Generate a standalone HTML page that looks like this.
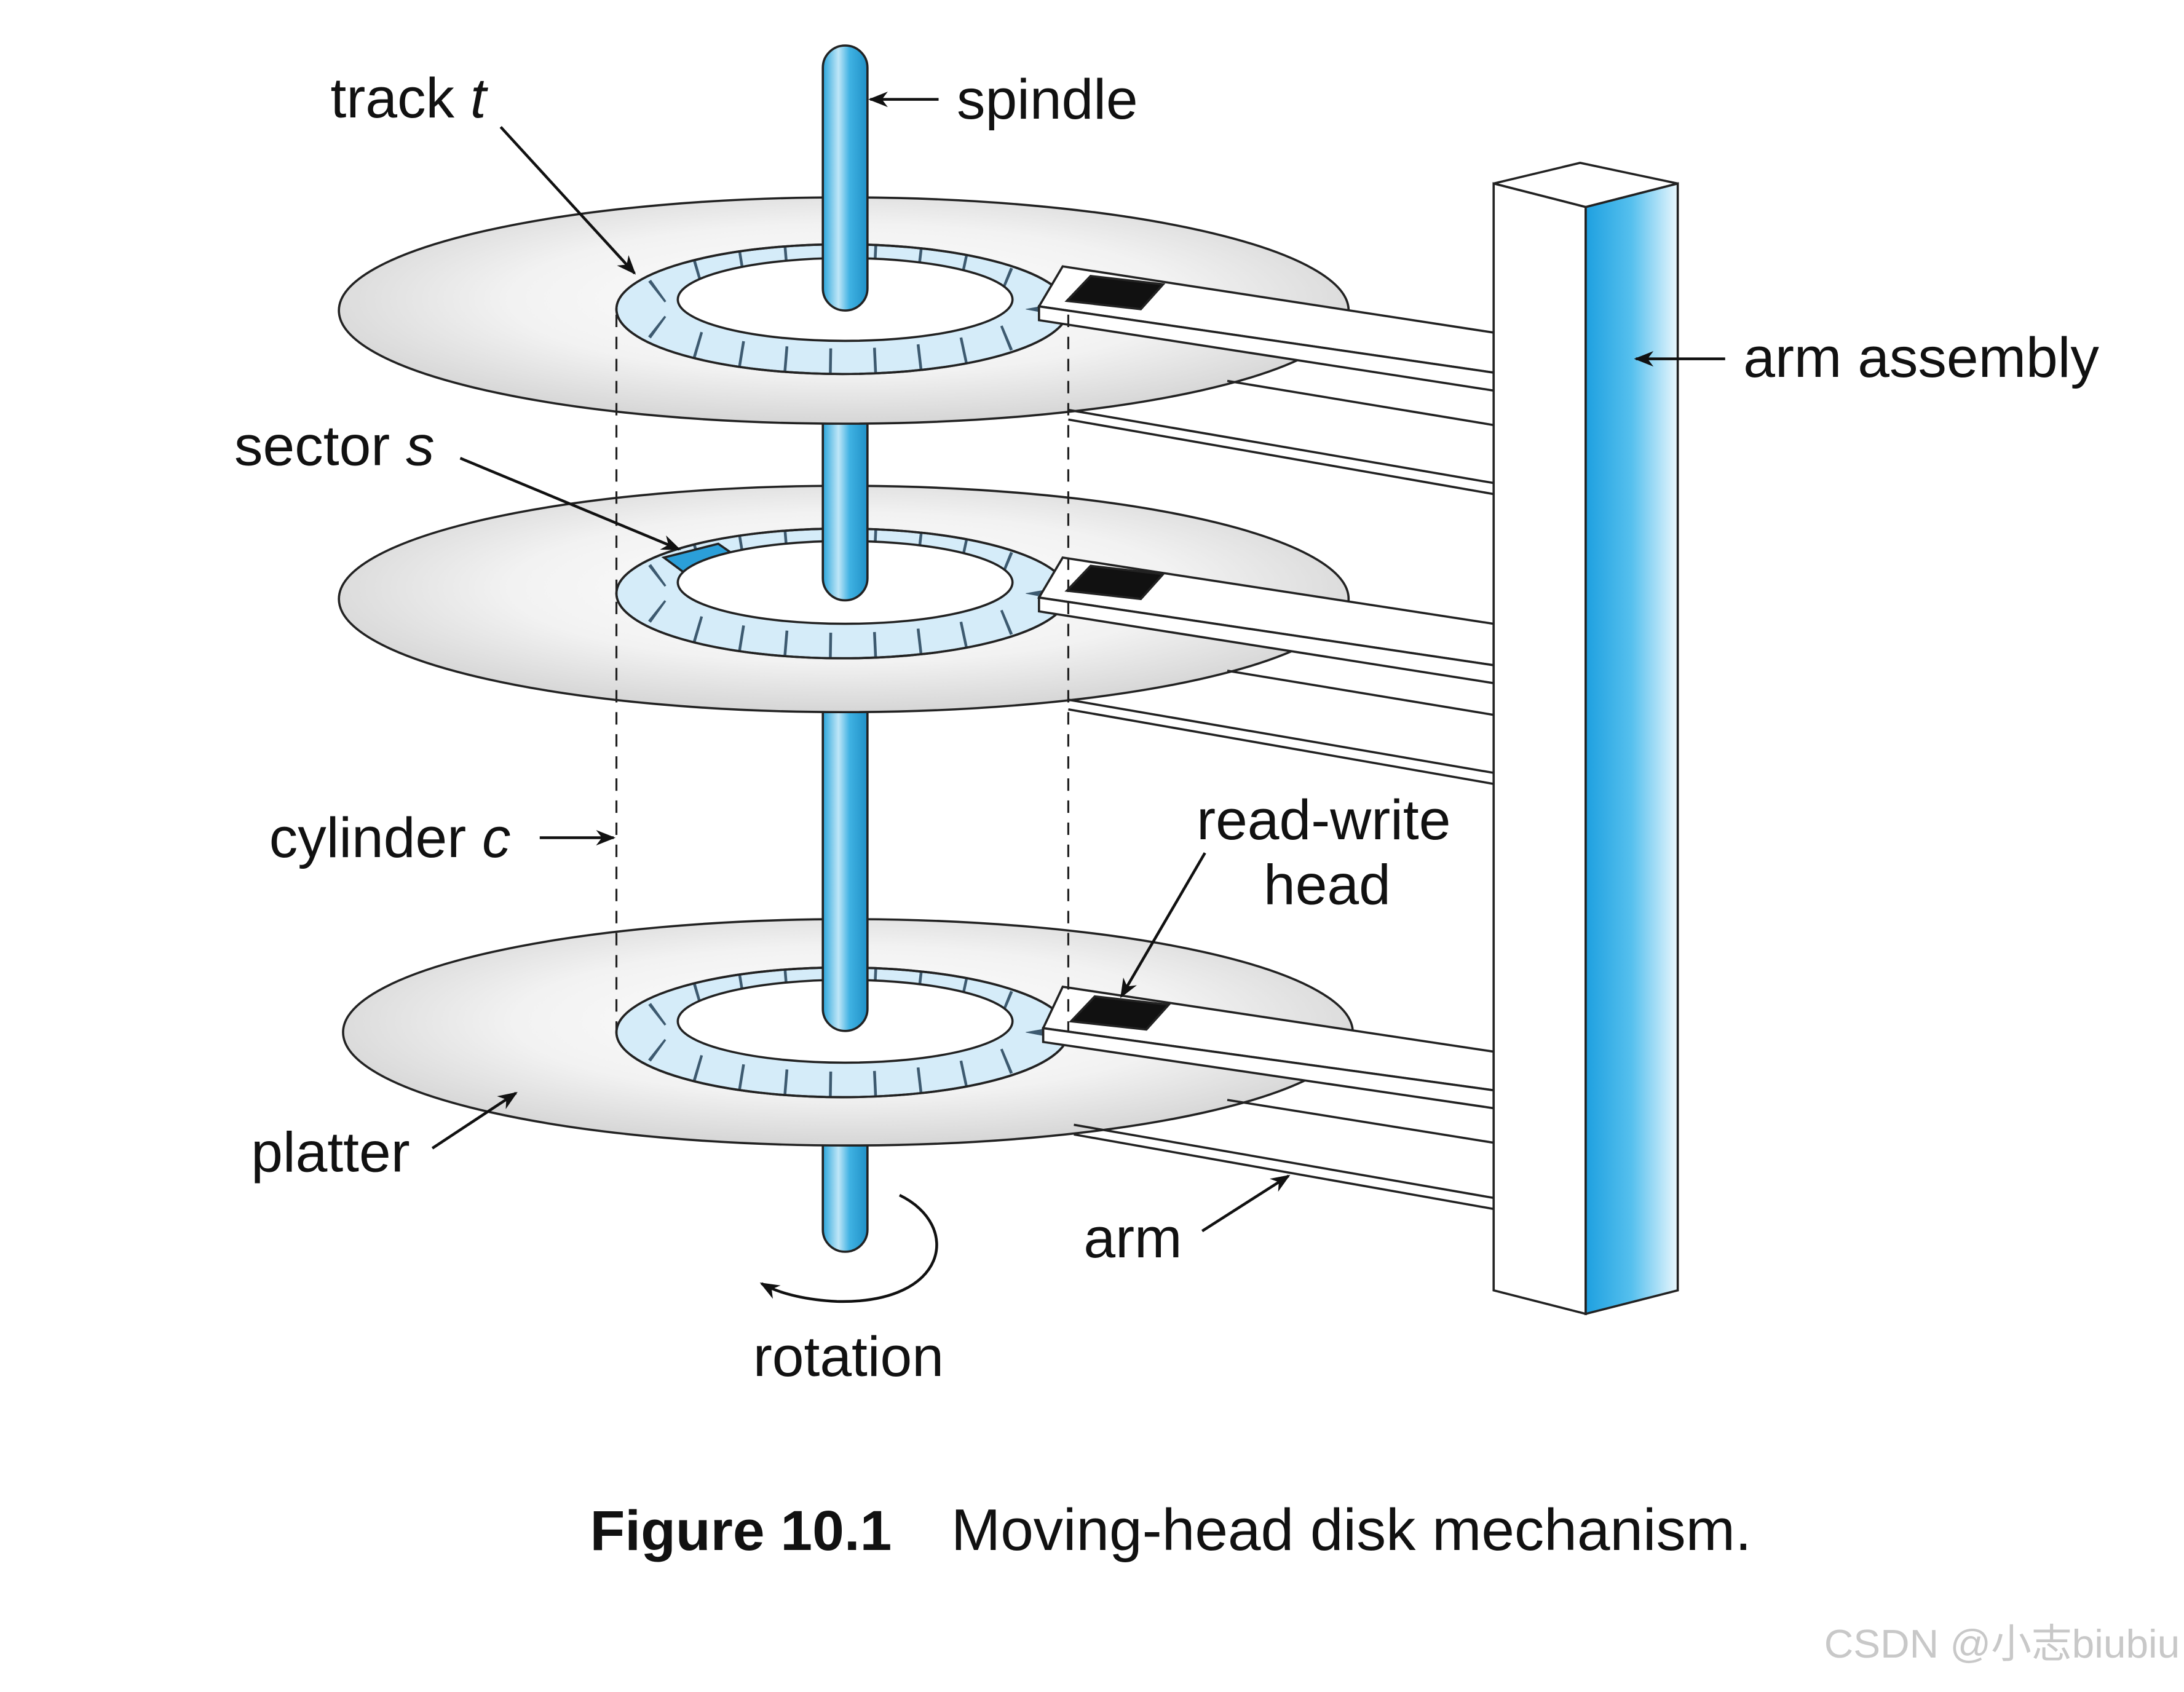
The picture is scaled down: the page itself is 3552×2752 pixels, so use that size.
<!DOCTYPE html>
<html><head><meta charset="utf-8"><style>
html,body{margin:0;padding:0;background:#fff}
svg{display:block}
text{font-family:"Liberation Sans","Noto Sans CJK SC",sans-serif;fill:#111}
</style></head><body>
<svg width="3552" height="2752" viewBox="0 0 1566 1226" preserveAspectRatio="none" xmlns="http://www.w3.org/2000/svg">
<defs>
<radialGradient id="pl" cx="0.5" cy="0.45" r="0.6">
<stop offset="0" stop-color="#ffffff"/><stop offset="0.55" stop-color="#f2f2f2"/><stop offset="1" stop-color="#cfcfcf"/>
</radialGradient>
<linearGradient id="sp" x1="0" x2="1">
<stop offset="0" stop-color="#2aa6dc"/><stop offset="0.35" stop-color="#bfe6f7"/><stop offset="0.6" stop-color="#3fb2e3"/><stop offset="1" stop-color="#1f8fc6"/>
</linearGradient>
<linearGradient id="col" x1="0" x2="1">
<stop offset="0" stop-color="#1ea0e0"/><stop offset="0.5" stop-color="#56c0ee"/><stop offset="1" stop-color="#eaf7fd"/>
</linearGradient>
<marker id="ah" viewBox="0 0 10 10" refX="9" refY="5" markerWidth="7" markerHeight="7" orient="auto-start-reverse">
<path d="M0,1 L10,5 L0,9 L3,5 z" fill="#111"/></marker>
</defs>

<g stroke="#222" stroke-width="1.6">
<rect x="590" y="745" width="32" height="162" rx="16" fill="url(#sp)"/>

<ellipse cx="608" cy="748" rx="362" ry="82" fill="url(#pl)"/>
<path d="M770 815 L1071 868 M770 822 L1071 876 M880 797 L1071 828" fill="none"/>
<ellipse cx="604" cy="748" rx="162" ry="47" fill="#d5ecf9"/>
<ellipse cx="604" cy="748" rx="141" ry="38" fill="none" stroke="#3d5a70" stroke-width="19" stroke-dasharray="2 30"/>
<ellipse cx="604" cy="748" rx="162" ry="47" fill="none"/>
<ellipse cx="606" cy="740" rx="120" ry="30" fill="#fff"/>
<rect x="590" y="434" width="32" height="313" rx="16" fill="url(#sp)"/>
<polygon points="762,715 1071,762 1071,790 748,745" fill="#fff"/>
<polygon points="748,745 1071,790 1071,803 748,755" fill="#fff"/>
<polygon points="785,722 838,728 822,746 768,740" fill="#111"/>

<ellipse cx="605" cy="434" rx="362" ry="82" fill="url(#pl)"/>
<path d="M766 507 L1071 560 M766 514 L1071 568 M880 486 L1071 518" fill="none"/>
<ellipse cx="604" cy="430" rx="162" ry="47" fill="#d5ecf9"/>
<ellipse cx="604" cy="430" rx="141" ry="38" fill="none" stroke="#3d5a70" stroke-width="19" stroke-dasharray="2 30"/>
<ellipse cx="604" cy="430" rx="162" ry="47" fill="none"/>
<polygon points="476,404 515,394 532,406 492,416" fill="#2b9fd9"/>
<ellipse cx="606" cy="422" rx="120" ry="30" fill="#fff"/>
<rect x="590" y="225" width="32" height="210" rx="16" fill="url(#sp)"/>
<polygon points="762,404 1071,452 1071,482 745,433" fill="#fff"/>
<polygon points="745,433 1071,482 1071,495 745,443" fill="#fff"/>
<polygon points="782,410 834,416 818,434 765,428" fill="#111"/>

<ellipse cx="605" cy="225" rx="362" ry="82" fill="url(#pl)"/>
<path d="M766 297 L1071 350 M766 304 L1071 358 M880 276 L1071 308" fill="none"/>
<ellipse cx="604" cy="224" rx="162" ry="47" fill="#d5ecf9"/>
<ellipse cx="604" cy="224" rx="141" ry="38" fill="none" stroke="#3d5a70" stroke-width="19" stroke-dasharray="2 30"/>
<ellipse cx="604" cy="224" rx="162" ry="47" fill="none"/>
<ellipse cx="606" cy="217" rx="120" ry="30" fill="#fff"/>
<rect x="590" y="33" width="32" height="192" rx="16" fill="url(#sp)"/>
<polygon points="762,193 1071,241 1071,270 745,222" fill="#fff"/>
<polygon points="745,222 1071,270 1071,283 745,232" fill="#fff"/>
<polygon points="782,200 834,206 818,224 765,218" fill="#111"/>

<path d="M442 228 L442 748 M766 228 L766 748" fill="none" stroke-dasharray="9 7" stroke-width="1.4"/>

<polygon points="1071,133 1133,118 1203,133 1137,150" fill="#fff"/>
<polygon points="1071,133 1137,150 1137,952 1071,935" fill="#fff"/>
<polygon points="1137,150 1203,133 1203,935 1137,952" fill="url(#col)"/>
</g>

<g stroke="#111" stroke-width="2" fill="none" marker-end="url(#ah)">
<path d="M359 92 L455 198"/>
<path d="M673 72 L624 72"/>
<path d="M1237 260 L1173 260"/>
<path d="M330 332 L487 398"/>
<path d="M387 607 L440 607"/>
<path d="M864 618 L804 722"/>
<path d="M310 832 L370 792"/>
<path d="M862 892 L924 852"/>
<path d="M645 866 C690 888 680 945 600 943 C580 942 560 938 546 930"/>
</g>

<g font-size="41">
<text x="237" y="85">track <tspan font-style="italic">t</tspan></text>
<text x="686" y="86">spindle</text>
<text x="1250" y="273">arm assembly</text>
<text x="168" y="337">sector <tspan font-style="italic">s</tspan></text>
<text x="193" y="621">cylinder <tspan font-style="italic">c</tspan></text>
<text x="858" y="608">read-write</text>
<text x="906" y="655">head</text>
<text x="180" y="849">platter</text>
<text x="777" y="911">arm</text>
<text x="540" y="997">rotation</text>
<text x="423" y="1123" font-weight="bold" font-size="41">Figure 10.1</text>
<text x="682" y="1123" font-size="42.5">Moving-head disk mechanism.</text>
<text x="1308" y="1201" font-size="29" style="fill:#c8c8c8">CSDN @小志biubiu</text>
</g>
</svg>
</body></html>
